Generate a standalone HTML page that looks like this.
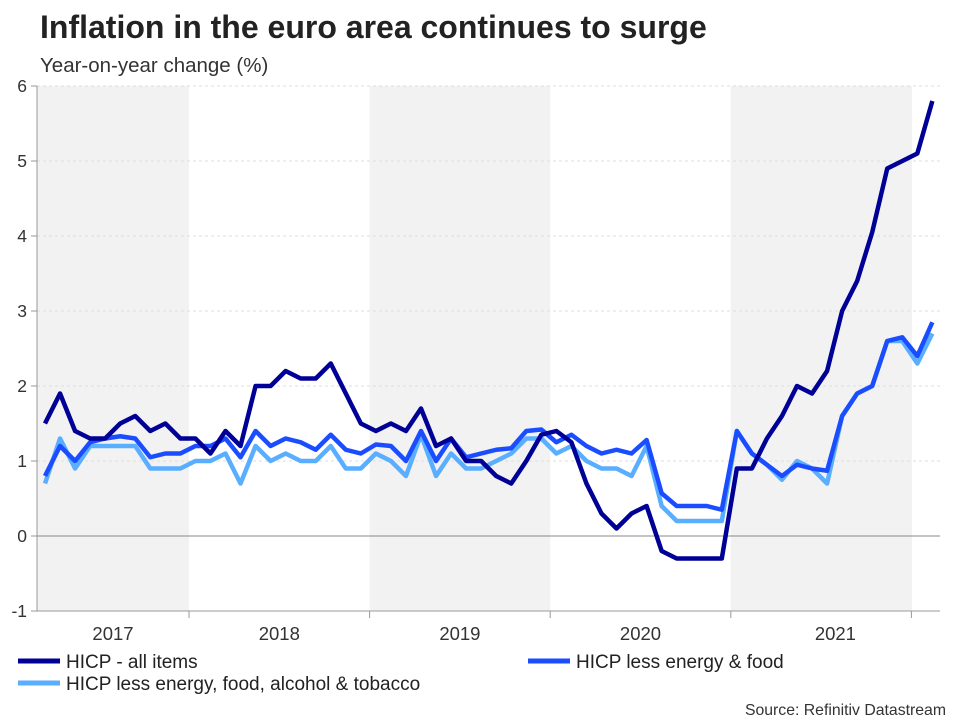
<!DOCTYPE html>
<html><head><meta charset="utf-8"><style>
body{margin:0;background:#fff;font-family:"Liberation Sans",sans-serif;}
svg text{font-family:"Liberation Sans",sans-serif;}
</style></head><body>
<svg id="chart" width="960" height="720" viewBox="0 0 960 720">
<text x="40" y="38" font-size="32" font-weight="bold" fill="#222">Inflation in the euro area continues to surge</text>
<text x="40" y="72" font-size="20.5" fill="#333">Year-on-year change (%)</text>
<g id="bands"></g><g id="grid"></g><g id="axes"></g><g id="series"></g>
<g>
<line x1="18" y1="661" x2="60" y2="661" stroke="#000096" stroke-width="5"/>
<text x="66" y="668" font-size="19" fill="#222">HICP - all items</text>
<line x1="528" y1="661" x2="570" y2="661" stroke="#1a4dff" stroke-width="5"/>
<text x="576" y="668" font-size="19" fill="#222">HICP less energy &amp; food</text>
<line x1="18" y1="683" x2="60" y2="683" stroke="#5aaeff" stroke-width="5"/>
<text x="66" y="690" font-size="19" fill="#222">HICP less energy, food, alcohol &amp; tobacco</text>
</g>
<text x="946" y="715" font-size="15.8" fill="#333" text-anchor="end">Source: Refinitiv Datastream</text>
</svg>
<script>
const years=["2017","2018","2019","2020","2021"];
const yTicks=[-1,0,1,2,3,4,5,6];
const allItems=[1.5,1.9,1.4,1.3,1.3,1.5,1.6,1.4,1.5,1.3,1.3,1.1,1.4,1.2,2.0,2.0,2.2,2.1,2.1,2.3,1.9,1.5,1.4,1.5,1.4,1.7,1.2,1.3,1.0,1.0,0.8,0.7,1.0,1.35,1.4,1.25,0.7,0.3,0.1,0.3,0.4,-0.2,-0.3,-0.3,-0.3,-0.3,0.9,0.9,1.3,1.6,2.0,1.9,2.2,3.0,3.4,4.05,4.9,5.0,5.1,5.8];
const core=[0.8,1.2,1.0,1.25,1.3,1.33,1.3,1.05,1.1,1.1,1.2,1.2,1.3,1.05,1.4,1.2,1.3,1.25,1.15,1.35,1.15,1.1,1.22,1.2,1.0,1.4,1.0,1.3,1.05,1.1,1.15,1.17,1.4,1.42,1.25,1.35,1.2,1.1,1.15,1.1,1.28,0.57,0.4,0.4,0.4,0.35,1.4,1.1,0.95,0.8,0.95,0.9,0.87,1.6,1.9,2.0,2.6,2.65,2.4,2.85];
const superCore=[0.7,1.3,0.9,1.2,1.2,1.2,1.2,0.9,0.9,0.9,1.0,1.0,1.1,0.7,1.2,1.0,1.1,1.0,1.0,1.2,0.9,0.9,1.1,1.0,0.8,1.35,0.8,1.1,0.9,0.9,1.0,1.1,1.3,1.3,1.1,1.2,1.0,0.9,0.9,0.8,1.2,0.4,0.2,0.2,0.2,0.2,1.4,1.1,0.95,0.75,1.0,0.9,0.7,1.6,1.9,2.0,2.6,2.6,2.3,2.7];
const NS="http://www.w3.org/2000/svg";
const X0=45,DX=15.04,Y0=536,DY=75,L=37,R=940;
const xS=i=>X0+i*DX;
const yS=v=>Y0-v*DY;
const yearEdge=k=>189+k*180.6;
function mk(t,a,p){const e=document.createElementNS(NS,t);for(const k in a)e.setAttribute(k,a[k]);p.appendChild(e);return e;}
const bands=document.getElementById('bands'),grid=document.getElementById('grid'),axes=document.getElementById('axes'),ser=document.getElementById('series');
years.forEach((y,k)=>{
 const x1=k===0?L:yearEdge(k-1), x2=k===years.length-1?R:yearEdge(k);
 if(k%2===0){const b=mk('rect',{x:x1,y:yS(6),width:Math.min(x2,912)-x1,height:yS(-1)-yS(6),fill:'#f2f2f2'},bands);
 
 }
 const t=mk('text',{x:(x1+x2)/2,y:640,'font-size':18.5,fill:'#333','text-anchor':'middle'},axes);t.textContent=y;
 
 
 const tk=mk('line',{x1:yearEdge(k),x2:yearEdge(k),y1:611,y2:618,stroke:'#999'},axes);
 
 
});
yTicks.forEach(v=>{
 const y=yS(v);
 const g=mk('line',{x1:L,x2:R,y1:y,y2:y,stroke:v===0?'#888':'#ddd','stroke-dasharray':v===0?'':'3,3','stroke-width':1},grid);
 
 
 const t=mk('text',{x:27,y:y+6,'font-size':17.5,fill:'#333','text-anchor':'end'},axes);t.textContent=v;
 
 
 const tk=mk('line',{x1:31,x2:L,y1:y,y2:y,stroke:'#999'},axes);
 
 
});
const ya=mk('line',{x1:L,x2:L,y1:yS(6),y2:yS(-1),stroke:'#999'},axes);


const xa=mk('line',{x1:L,x2:R,y1:611,y2:611,stroke:'#999'},axes);


function line(d,c,n){const p=mk('polyline',{points:d.map((v,i)=>xS(i)+','+yS(v)).join(' '),fill:'none',stroke:c,'stroke-width':4.5,'stroke-linejoin':'round'},ser);
 
 }
line(superCore,'#5aaeff','series-less-energy-food-alcohol-tobacco');
line(core,'#1a4dff','series-less-energy-food');
line(allItems,'#000096','series-all-items');
</script>
</body></html>
